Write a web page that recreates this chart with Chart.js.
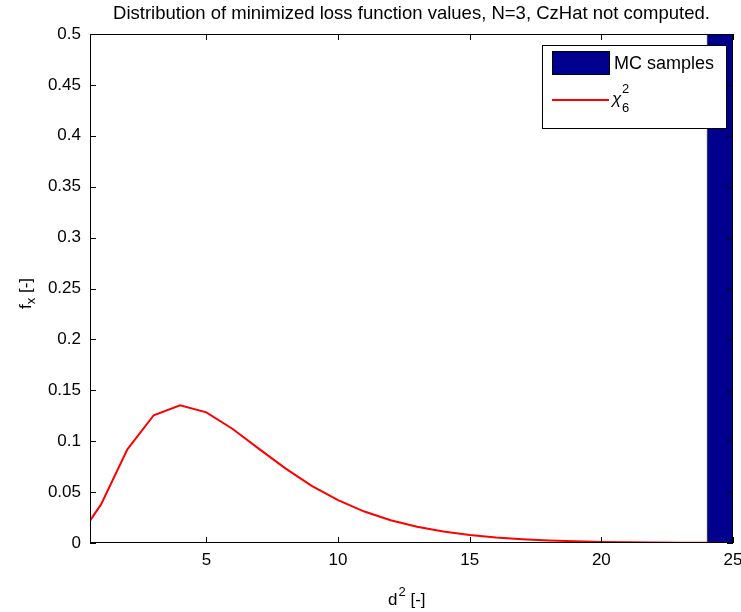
<!DOCTYPE html>
<html>
<head>
<meta charset="utf-8">
<script src="https://cdn.jsdelivr.net/npm/chart.js@4/dist/chart.umd.min.js"></script>
<style>
  html, body { margin: 0; padding: 0; background: #fff; }
  canvas { display: block; }
</style>
</head>
<body>
<canvas id="chart" width="741" height="612"></canvas>
<script>
// ==== Data ====
const chiX = [0, 1, 2, 3, 4, 5, 6, 7, 8, 9, 10, 11, 12, 13, 14, 15, 16, 17, 18, 19, 20, 21, 22, 23, 24, 25];
const chiPdf = [0, 0.0379, 0.0920, 0.1255, 0.1353, 0.1283, 0.1120, 0.0925, 0.0733, 0.0562, 0.0421,
  0.0309, 0.0223, 0.0159, 0.0112, 0.0078, 0.0054, 0.0037, 0.0025, 0.0017, 0.0011,
  0.0008, 0.0005, 0.0003, 0.0002, 0.0001];
const binCenters = [24.5];
const binDensity = [1.0];
const xTicks = [5, 10, 15, 20, 25];
const xRange = [0.58, 25];
const yRange = [0, 0.5];
const chartTitle = 'Distribution of minimized loss function values, N=3, CzHat not computed.';

const FONT = '"Liberation Sans", Arial, Helvetica, sans-serif';
const BAR_COLOR = '#00008f';
const LINE_COLOR = '#ff0000';

// ==== Frame, inward ticks, title, axis labels and legend ====
const matlabFrame = {
  id: 'matlabFrame',
  afterDraw(chart) {
    const { ctx, chartArea: a, scales } = chart;
    const tl = 6;
    ctx.save();
    ctx.strokeStyle = '#000';
    ctx.lineWidth = 1;
    ctx.strokeRect(a.left + 0.5, a.top + 0.5, a.right - a.left - 1, a.bottom - a.top - 1);

    ctx.beginPath();
    scales.x.ticks.forEach(t => {
      const px = Math.round(scales.x.getPixelForValue(t.value)) + 0.5;
      ctx.moveTo(px, a.bottom); ctx.lineTo(px, a.bottom - tl);
      ctx.moveTo(px, a.top); ctx.lineTo(px, a.top + tl);
    });
    scales.y.ticks.forEach(t => {
      const py = Math.round(scales.y.getPixelForValue(t.value)) + 0.5;
      ctx.moveTo(a.left, py); ctx.lineTo(a.left + tl, py);
      ctx.moveTo(a.right, py); ctx.lineTo(a.right - tl, py);
    });
    ctx.stroke();

    // title, centred over the plot box
    ctx.fillStyle = '#000';
    ctx.font = '18.5px ' + FONT;
    ctx.textAlign = 'center';
    ctx.textBaseline = 'alphabetic';
    ctx.fillText(chartTitle, (a.left + a.right) / 2, 19);

    // x label: d^2 [-]
    ctx.textAlign = 'left';
    ctx.font = '17px ' + FONT;
    let x = 388, y = 605;
    ctx.fillText('d', x, y);
    x += ctx.measureText('d').width;
    ctx.font = '13px ' + FONT;
    ctx.fillText('2', x + 1, y - 9);
    x += ctx.measureText('2').width + 1;
    ctx.font = '17px ' + FONT;
    ctx.fillText(' [-]', x, y);

    // y label: f_x [-]
    ctx.save();
    ctx.translate(31, 309);
    ctx.rotate(-Math.PI / 2);
    ctx.font = '17px ' + FONT;
    let ux = 0;
    ctx.fillText('f', ux, 0);
    ux += ctx.measureText('f').width;
    ctx.font = '13px ' + FONT;
    ctx.fillText('x', ux, 4);
    ux += ctx.measureText('x').width;
    ctx.font = '17px ' + FONT;
    ctx.fillText(' [-]', ux, 0);
    ctx.restore();

    // legend
    const lx = 542, ly = 45, lw = 184, lh = 83;
    ctx.fillStyle = '#fff';
    ctx.fillRect(lx, ly, lw, lh);
    ctx.strokeStyle = '#000';
    ctx.strokeRect(lx + 0.5, ly + 0.5, lw, lh);

    ctx.fillStyle = BAR_COLOR;
    ctx.fillRect(552, 51, 57, 23);
    ctx.strokeRect(552.5, 51.5, 57, 23);
    ctx.fillStyle = '#000';
    ctx.font = '18px ' + FONT;
    ctx.textBaseline = 'middle';
    ctx.fillText(chart.data.datasets[0].label, 614, 64);

    ctx.strokeStyle = LINE_COLOR;
    ctx.lineWidth = 2;
    ctx.beginPath();
    ctx.moveTo(552, 100); ctx.lineTo(609, 100);
    ctx.stroke();
    ctx.textBaseline = 'alphabetic';
    ctx.fillStyle = '#000';
    ctx.font = 'italic 17px ' + FONT;
    ctx.fillText('\u03c7', 612, 104);
    ctx.font = '13px ' + FONT;
    ctx.fillText('2', 622, 93);
    ctx.fillText('6', 622, 112);
    ctx.restore();
  }
};

// ==== Chart ====
new Chart(document.getElementById('chart'), {
  data: {
    datasets: [
      {
        type: 'bar',
        label: 'MC samples',
        data: binCenters.map((c, i) => ({ x: c, y: binDensity[i] })),
        backgroundColor: BAR_COLOR,
        borderColor: '#000',
        borderWidth: 1,
        borderSkipped: false,
        categoryPercentage: 1,
        barPercentage: 0.2,
        grouped: false,
        order: 1
      },
      {
        type: 'line',
        label: '\u03c7\u00b2\u2086',
        data: chiX.map((c, i) => ({ x: c, y: chiPdf[i] })),
        borderColor: LINE_COLOR,
        borderWidth: 2,
        pointRadius: 0,
        tension: 0,
        fill: false,
        clip: 0,
        order: 0
      }
    ]
  },
  options: {
    responsive: false,
    animation: false,
    devicePixelRatio: 1,
    layout: { padding: { left: 0, right: 8, top: 34, bottom: 0 } },
    plugins: {
      legend: { display: false },
      tooltip: { enabled: false },
      title: { display: false }
    },
    scales: {
      x: {
        type: 'linear',
        min: xRange[0],
        max: xRange[1],
        offset: false,
        grid: { display: false, drawTicks: false },
        border: { display: false },
        afterBuildTicks: scale => { scale.ticks = xTicks.map(v => ({ value: v })); },
        afterFit: scale => { scale.height = 69; scale.paddingLeft = 0; scale.paddingRight = 0; },
        ticks: {
          color: '#000',
          font: { family: FONT, size: 17 },
          padding: 7,
          maxRotation: 0,
          autoSkip: false
        }
      },
      y: {
        type: 'linear',
        min: yRange[0],
        max: yRange[1],
        grid: { display: false, drawTicks: false },
        border: { display: false },
        afterFit: scale => { scale.width = 90; scale.paddingTop = 0; scale.paddingBottom = 0; },
        ticks: {
          stepSize: 0.05,
          color: '#000',
          font: { family: FONT, size: 17 },
          padding: 9,
          callback: v => String(+v.toFixed(2))
        }
      }
    }
  },
  plugins: [matlabFrame]
});
</script>
</body>
</html>
